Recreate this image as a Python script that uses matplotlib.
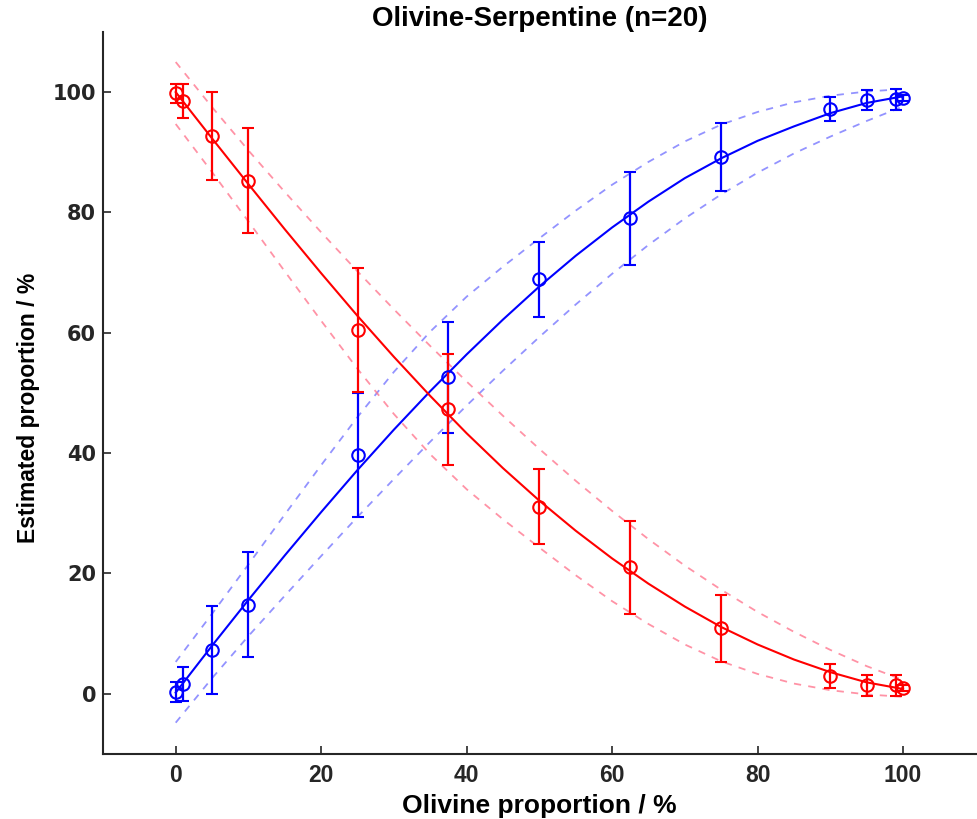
import numpy as np
import matplotlib
matplotlib.use('Agg')
import matplotlib.pyplot as plt

# Known olivine proportion of the mixtures (%)
olivine_true = [0, 1, 5, 10, 25, 37.5, 50, 62.5, 75, 90, 95, 99, 100]
# Estimated proportions (%) and their error (+/-)
olivine_est = [0.3, 1.6, 7.3, 14.8, 39.7, 52.6, 68.9, 79.0, 89.2, 97.2, 98.7, 98.8, 99.1]
serpentine_est = [99.8, 98.5, 92.7, 85.3, 60.5, 47.3, 31.1, 21.0, 10.9, 3.0, 1.4, 1.4, 0.9]
est_err = [1.6, 2.8, 7.3, 8.7, 10.3, 9.2, 6.2, 7.7, 5.6, 2.0, 1.7, 1.7, 0.5]

# Fitted curves and their bounds, read every 5 %
fit_x = [0, 5, 10, 15, 20, 25, 30, 35, 40, 45, 50, 55, 60, 65, 70, 75, 80, 85, 90, 95, 100]
oliv_fit = [0.2, 8.0, 15.6, 23.0, 30.2, 37.2, 43.9, 50.3, 56.4, 62.2, 67.7, 72.8,
            77.5, 81.8, 85.7, 89.0, 91.9, 94.3, 96.5, 98.2, 99.3]
oliv_hi = [5.3, 13.3, 21.5, 29.8, 38.0, 46.0, 53.5, 60.2, 66.0, 71.0, 75.7, 80.3,
           84.6, 88.4, 91.8, 94.6, 96.7, 98.3, 99.4, 100.1, 100.5]
oliv_lo = [-4.8, 2.6, 9.6, 16.3, 22.9, 29.4, 35.7, 41.9, 47.9, 53.7, 59.3, 64.7,
           69.8, 74.6, 79.0, 83.0, 86.6, 89.8, 92.6, 95.2, 97.6]
serp_fit = [100.0, 92.3, 84.7, 77.2, 69.9, 62.8, 56.0, 49.5, 43.3, 37.5, 32.1, 27.1,
            22.5, 18.3, 14.5, 11.1, 8.2, 5.7, 3.6, 1.9, 0.8]
serp_hi = [105.0, 97.5, 90.3, 83.4, 76.7, 70.2, 63.9, 57.8, 51.9, 46.2, 40.7, 35.4,
           30.4, 25.7, 21.3, 17.3, 13.6, 10.3, 7.3, 4.6, 2.3]
serp_lo = [94.7, 86.7, 78.5, 70.2, 62.0, 54.0, 46.5, 39.8, 34.0, 29.0, 24.3, 19.7,
           15.4, 11.6, 8.2, 5.4, 3.3, 1.7, 0.6, -0.1, -0.5]

ticks = [0, 20, 40, 60, 80, 100]
narrow = ['Liberation Sans Narrow', 'Liberation Sans']

fig = plt.figure(figsize=(9.77, 8.19), dpi=100, facecolor='w')
ax = fig.add_axes([0.1054, 0.0794, 0.8933, 0.8816])

dash = (0, (4, 4))
# bounds
ax.plot(fit_x, oliv_hi, color='#7878ff', ls=dash, lw=1.3, alpha=0.8)
ax.plot(fit_x, oliv_lo, color='#7878ff', ls=dash, lw=1.3, alpha=0.8)
ax.plot(fit_x, serp_hi, color='#ff7890', ls=dash, lw=1.3, alpha=0.8)
ax.plot(fit_x, serp_lo, color='#ff7890', ls=dash, lw=1.3, alpha=0.8)
# fits
ax.plot(fit_x, oliv_fit, color='b', lw=1.5)
ax.plot(fit_x, serp_fit, color='r', lw=1.5)
# measurements
ax.errorbar(olivine_true, olivine_est, yerr=est_err, fmt='o', color='b', mfc='none',
            ms=9, mew=1.5, elinewidth=1.6, capsize=4.3, capthick=1.6)
ax.errorbar(olivine_true, serpentine_est, yerr=est_err, fmt='o', color='r', mfc='none',
            ms=9, mew=1.5, elinewidth=1.6, capsize=4.3, capthick=1.6)

ax.set_xlim(-10, 110)
ax.set_ylim(-10, 110)
ax.set_xticks(ticks)
ax.set_yticks(ticks)
ax.set_xticklabels([str(t) for t in ticks], fontfamily=narrow, fontweight='bold', fontsize=16.5)
ax.set_yticklabels([str(t) for t in ticks], fontfamily='DejaVu Sans', fontweight='bold', fontsize=15)
ax.tick_params(direction='in', length=6, width=1.2, colors='#262626')
ax.tick_params(axis='x', pad=7)
ax.tick_params(axis='y', pad=5)
for s in ('top', 'right'):
    ax.spines[s].set_visible(False)
for s in ('left', 'bottom'):
    ax.spines[s].set_color('#262626')
    ax.spines[s].set_linewidth(1.5)

ax.set_xlabel('Olivine proportion / %', fontfamily=narrow, fontweight='bold', fontsize=19, labelpad=5)
ax.set_ylabel('Estimated proportion / %', fontfamily=narrow, fontweight='bold', fontsize=16.5)
ax.yaxis.set_label_coords(-0.072, 0.48)
ax.set_title('Olivine-Serpentine (n=20)', fontfamily=narrow, fontweight='bold', fontsize=20, pad=4)

fig.savefig('out.png', dpi=100, facecolor='w')
